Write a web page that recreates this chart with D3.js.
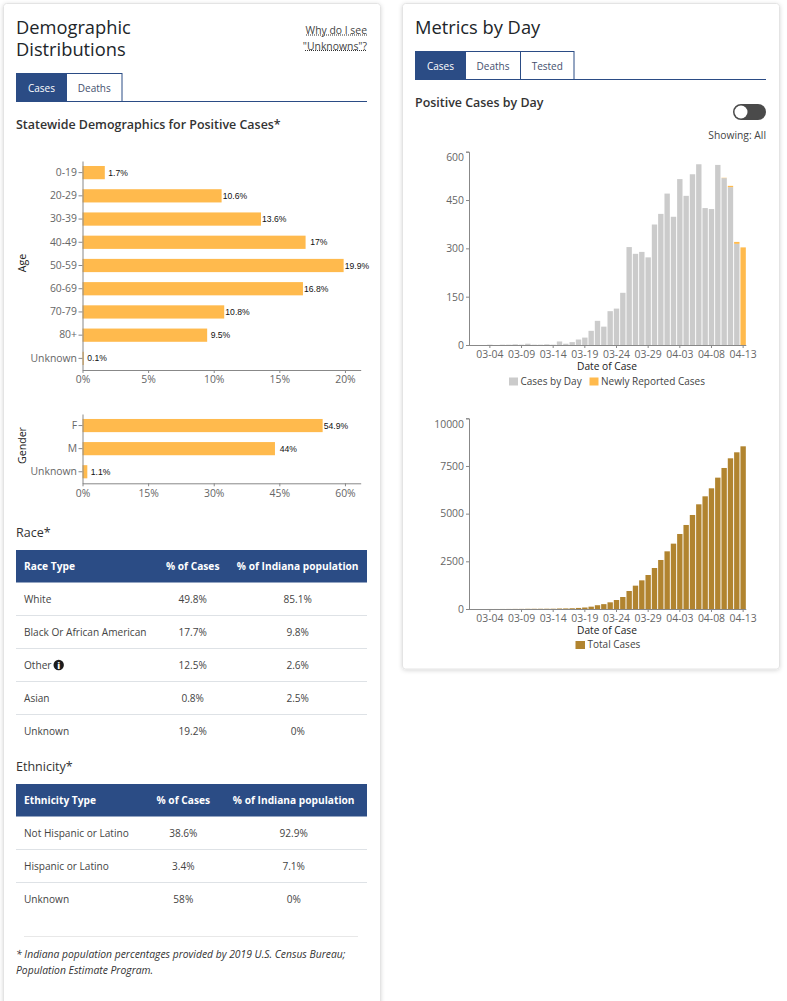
<!DOCTYPE html>
<html><head><meta charset="utf-8">
<script src="https://cdnjs.cloudflare.com/ajax/libs/d3/7.8.5/d3.min.js"></script>
<style>
html,body{margin:0;padding:0;background:#fff;overflow:hidden}
svg{display:block}
text{font-family:"Open Sans",sans-serif}
.domain,.tick line{stroke:#888}
.tick text{fill:#666;font-size:10.4px;font-family:"Open Sans",sans-serif}
</style></head><body>
<div id="chart"></div>
<script>
const ageCategories=["0-19","20-29","30-39","40-49","50-59","60-69","70-79","80+","Unknown"];
const ageValues=[1.7,10.6,13.6,17,19.9,16.8,10.8,9.5,0.1];
const genderCategories=["F","M","Unknown"];
const genderValues=[54.9,44,1.1];
const dates=["03-01","03-02","03-03","03-04","03-05","03-06","03-07","03-08","03-09","03-10","03-11","03-12","03-13","03-14","03-15","03-16","03-17","03-18","03-19","03-20","03-21","03-22","03-23","03-24","03-25","03-26","03-27","03-28","03-29","03-30","03-31","04-01","04-02","04-03","04-04","04-05","04-06","04-07","04-08","04-09","04-10","04-11","04-12","04-13"];
const casesByDay=[0,0,0,1,0,1,1,2,1,4,1,1,2,1,11,4,9,17,23,44,75,57,105,113,162,304,283,289,272,374,407,470,398,515,463,530,561,425,422,559,518,490,314,0];
const newlyReported=[0,0,0,0,0,0,0,0,0,0,0,0,0,0,0,0,0,0,0,0,0,0,0,0,0,0,0,0,0,0,0,0,0,0,0,0,0,0,0,0,1,4,6,303];
const totalCases=[0,0,0,1,1,2,3,5,6,10,11,12,14,15,26,30,39,56,79,123,198,255,350,472,629,944,1224,1503,1783,2150,2570,3024,3427,3934,4406,4930,5490,5909,6329,6888,7395,7902,8217,8531];
const xTicks=["03-04","03-09","03-14","03-19","03-24","03-29","04-03","04-08","04-13"];
const raceRows=["White","Black Or African American","Other","Asian","Unknown"];
const raceCases=["49.8%","17.7%","12.5%","0.8%","19.2%"];
const racePop=["85.1%","9.8%","2.6%","2.5%","0%"];
const ethRows=["Not Hispanic or Latino","Hispanic or Latino","Unknown"];
const ethCases=["38.6%","3.4%","58%"];
const ethPop=["92.9%","7.1%","0%"];

const BLUE="#2b4c85",ORANGE="#ffba4d",GREY="#cbcbcb",BROWN="#b1842f",DARK="#212529",BODY="#444";
const svg=d3.select("#chart").append("svg").attr("width",787).attr("height",1001);
const defs=svg.append("defs");
const f=defs.append("filter").attr("id","sh").attr("x","-5%").attr("y","-5%").attr("width","110%").attr("height","110%");
f.append("feDropShadow").attr("dx",0).attr("dy",1).attr("stdDeviation",2).attr("flood-color","#000").attr("flood-opacity",0.16);

function card(x,y,w,h){svg.append("rect").attr("x",x).attr("y",y).attr("width",w).attr("height",h).attr("rx",3).attr("fill","#fff").attr("stroke","#e4e4e4").attr("filter","url(#sh)");}
card(3.5,3.5,377,1010);
card(402.5,3.5,377,665.5);

function txt(x,y,s,o={}){return svg.append("text").attr("x",x).attr("y",y).text(s)
 .attr("font-size",o.size||12).attr("fill",o.fill||BODY).attr("font-weight",o.weight||400)
 .attr("text-anchor",o.anchor||"start").attr("font-style",o.style||"normal")
 .attr("letter-spacing",o.ls||0);}

const H2={size:18.3,fill:DARK,weight:500};
txt(16,34,"Demographic",H2);
txt(16,56,"Distributions",H2);
txt(415,34,"Metrics by Day",H2);
txt(367,33.5,"Why do I see",{size:10.4,anchor:"end"});
txt(367,49.5,"\"Unknowns\"?",{size:10.4,anchor:"end"});
[[306,367,35],[305,367,50.5]].forEach(d=>svg.append("line").attr("x1",d[0]).attr("x2",d[1]).attr("y1",d[2]).attr("y2",d[2]).attr("stroke","#333").attr("stroke-dasharray","1 1"));

function tabs(x,y,items,endX){
 svg.append("line").attr("x1",x).attr("x2",endX).attr("y1",y+28.5).attr("y2",y+28.5).attr("stroke",BLUE);
 items.forEach((t,i)=>{
  svg.append("rect").attr("x",t.x+.5).attr("y",y+.5).attr("width",t.w).attr("height",28).attr("fill",i==0?BLUE:"#fff").attr("stroke",BLUE);
  txt(t.x+t.w/2+.5,y+18.5,t.s,{size:10,anchor:"middle",fill:i==0?"#fff":"#444f6e"});
 });
}
tabs(16,73,[{x:16,w:50,s:"Cases"},{x:66,w:55.5,s:"Deaths"}],367);
tabs(415,51,[{x:415,w:50,s:"Cases"},{x:465,w:55,s:"Deaths"},{x:520,w:53.5,s:"Tested"}],766);

const H3={size:12.45,weight:600,fill:"#333"};
txt(16,129,"Statewide Demographics for Positive Cases*",H3);
txt(415,107,"Positive Cases by Day",H3);
txt(16,537,"Race*",{size:12.5,weight:500,fill:"#333"});
txt(16,771,"Ethnicity*",{size:12.5,weight:500,fill:"#333"});

// toggle
svg.append("rect").attr("x",733).attr("y",104).attr("width",33).attr("height",16).attr("rx",8).attr("fill","#4a4a4a");
svg.append("circle").attr("cx",741).attr("cy",112).attr("r",6.5).attr("fill","#fff");
txt(766,139,"Showing: All",{size:10.3,anchor:"end"});

// horizontal bars
function hbars(cats,vals,top,bottom,xMax,ticks,title,titleY){
 const x=d3.scaleLinear().domain([0,xMax]).range([82.5,360.7]);
 const y=d3.scaleBand().domain(cats).range([top,bottom]).paddingInner(0.43).paddingOuter(0.215);
 const g=svg.append("g");
 g.selectAll("rect").data(cats).join("rect").attr("x",x(0)).attr("y",d=>y(d)).attr("height",y.bandwidth())
  .attr("width",(d,i)=>x(vals[i])-x(0)).attr("fill",ORANGE);
 g.selectAll("text.v").data(cats).join("text").attr("class","v").attr("text-anchor","middle")
  .attr("x",(d,i)=>x(vals[i])+13.3).attr("y",d=>y(d)+y.bandwidth()/2+3)
  .text((d,i)=>vals[i]+"%").attr("font-size",8.6).attr("fill","#111").style("font-family","'Liberation Sans',sans-serif");
 svg.append("g").attr("transform",`translate(0,${bottom})`)
  .call(d3.axisBottom(x).tickValues(ticks).tickSize(3).tickSizeOuter(0).tickFormat(d=>d+"%"));
 svg.append("g").attr("transform",`translate(82.5,0)`)
  .call(d3.axisLeft(y).tickSize(4).tickPadding(1.5).tickSizeOuter(0));
 txt(0,0,title,{size:10.6,anchor:"middle",fill:"#222"}).attr("transform",`translate(25.5,${titleY}) rotate(-90)`);
}
hbars(ageCategories,ageValues,161,370,21.2,[0,5,10,15,20],"Age",263);
hbars(genderCategories,genderValues,414,483.3,63.6,[0,15,30,45,60],"Gender",445.5);

// vertical bars
const xBand=d3.scaleBand().domain(dates).range([467.7,746.3]).paddingInner(0.15).paddingOuter(0.075);
function vAxes(base,top,yScale,yTicks,axisTitleY){
 const gx=svg.append("g").attr("transform",`translate(0,${base})`)
  .call(d3.axisBottom(xBand).tickValues(xTicks).tickSize(3).tickSizeOuter(0));
 gx.select(".domain").attr("d",`M469,0.5H746.3`);
 const gy=svg.append("g").attr("transform","translate(469,0)")
  .call(d3.axisLeft(yScale).tickValues(yTicks).tickSize(3).tickPadding(2).tickFormat(d3.format("d")));
 gy.selectAll(".tick text").filter(d=>d===yTicks[yTicks.length-1]).attr("dy","0.85em");
 txt(607,axisTitleY,"Date of Case",{size:10.2,anchor:"middle",fill:"#222"});
}
const y1=d3.scaleLinear().domain([0,600]).range([345,151.7]);
svg.append("g").selectAll("rect").data(dates).join("rect").attr("x",d=>xBand(d)).attr("width",xBand.bandwidth())
 .attr("y",(d,i)=>y1(casesByDay[i])).attr("height",(d,i)=>y1(0)-y1(casesByDay[i])).attr("fill",GREY);
svg.append("g").selectAll("rect").data(dates).join("rect").attr("x",d=>xBand(d)).attr("width",xBand.bandwidth())
 .attr("y",(d,i)=>y1(casesByDay[i]+newlyReported[i])).attr("height",(d,i)=>y1(casesByDay[i])-y1(casesByDay[i]+newlyReported[i])).attr("fill",ORANGE);
vAxes(345,151.7,y1,[0,150,300,450,600],370);

const y2=d3.scaleLinear().domain([0,10000]).range([609,418.3]);
svg.append("g").selectAll("rect").data(dates).join("rect").attr("x",d=>xBand(d)).attr("width",xBand.bandwidth())
 .attr("y",(d,i)=>y2(totalCases[i])).attr("height",(d,i)=>y2(0)-y2(totalCases[i])).attr("fill",BROWN);
vAxes(609,418.3,y2,[0,2500,5000,7500,10000],634);

// legends
function leg(x,y,c,s,w){svg.append("rect").attr("x",x).attr("y",y-4).attr("width",w).attr("height",8).attr("fill",c);
 txt(x+w+2.5,y+3,s,{size:10,fill:"#444"});}
leg(509,381.5,GREY,"Cases by Day",9);
leg(589.5,381.5,ORANGE,"Newly Reported Cases",9);
leg(575.5,645,BROWN,"Total Cases",9.5);

// tables
function table(top,hdr,c2,c3,rows,a,b){
 svg.append("rect").attr("x",16).attr("y",top).attr("width",351).attr("height",32.5).attr("fill",BLUE);
 const H={size:10.2,weight:700,fill:"#fff"};
 txt(24,top+20,hdr[0],H);
 txt(c2,top+20,hdr[1],{...H,anchor:"middle"});
 txt(c3,top+20,hdr[2],{...H,anchor:"middle"});
 rows.forEach((r,i)=>{
  const cy=top+49+i*33;
  txt(24,cy+3.5,r,{size:10.1,fill:BODY});
  txt(c2,cy+3.5,a[i],{size:10.1,anchor:"middle",fill:BODY});
  txt(c3,cy+3.5,b[i],{size:10.1,anchor:"middle",fill:BODY});
  if(i<rows.length-1) svg.append("line").attr("x1",16).attr("x2",367).attr("y1",Math.round(cy+16)+.5).attr("y2",Math.round(cy+16)+.5).attr("stroke","#dee2e6");
 });
}
table(550,["Race Type","% of Cases","% of Indiana population"],192.7,297.7,raceRows,raceCases,racePop);
table(784,["Ethnicity Type","% of Cases","% of Indiana population"],183.3,293.7,ethRows,ethCases,ethPop);
svg.append("circle").attr("cx",58.7).attr("cy",665).attr("r",5.2).attr("fill","#1c1c1c");
txt(58.7,668.5,"i",{size:9,weight:800,fill:"#fff",anchor:"middle"});
svg.append("line").attr("x1",24).attr("x2",358).attr("y1",936.5).attr("y2",936.5).attr("stroke","#e8e8e8");
txt(16,958,"* Indiana population percentages provided by 2019 U.S. Census Bureau;",{size:10.35,style:"italic",fill:"#333"});
txt(16,974,"Population Estimate Program.",{size:10.35,style:"italic",fill:"#333"});
</script>
</body></html>
